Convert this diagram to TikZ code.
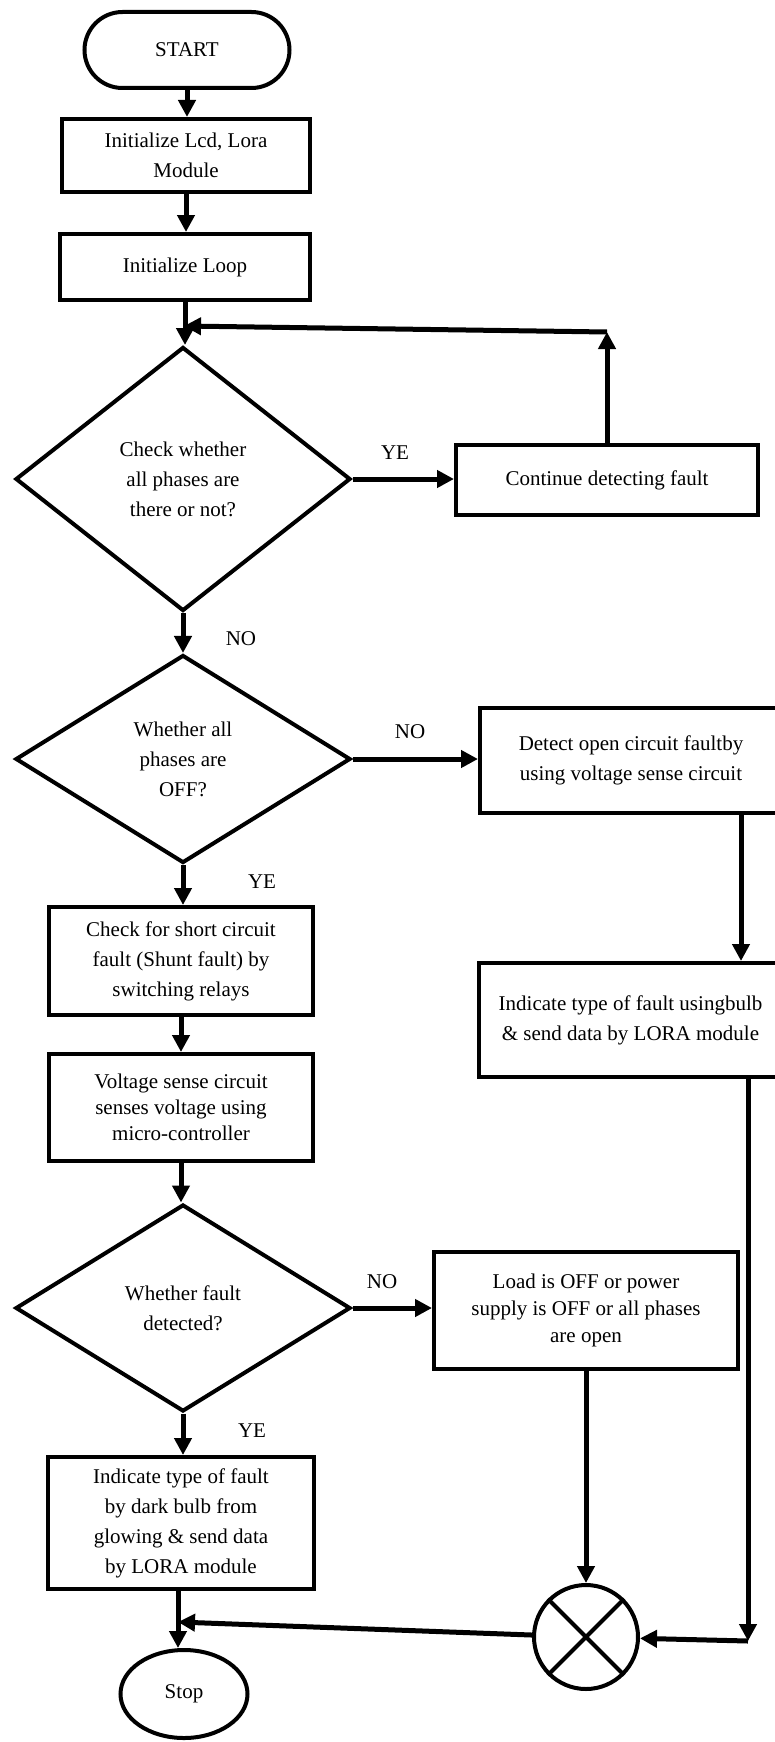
\documentclass[tikz,border=0pt]{standalone}
\usepackage{fontspec}
\setmainfont{Liberation Serif}
\usetikzlibrary{arrows.meta,shapes.geometric}

\begin{document}
\begin{tikzpicture}[x=1pt,y=-1pt,
	every node/.style={font=\fontsize{21}{30}\selectfont},
	box/.style={draw,line width=4pt,rectangle,align=center,inner sep=0pt},
	term/.style={box,rounded corners=38pt},
	decision/.style={draw,line width=4pt,diamond,align=center,inner sep=0pt},
	lbl/.style={inner sep=0pt},
	arrow/.style={line width=5pt,-{Triangle[length=17pt,width=17pt]}}]
	\useasboundingbox (0,0) rectangle (775,1742);
	%% Vertices ------
	\node[term,minimum width=205pt,minimum height=76pt] (start) at (187,50) {START};
	\node[box,minimum width=248pt,minimum height=73pt] (init) at (186,155.5) {Initialize Lcd, Lora\\Module};
	\node[box,minimum width=250pt,minimum height=66pt] (loopinit) at (185,267) {Initialize Loop};
	\node[decision,minimum width=335pt,minimum height=264pt] (phases) at (183,479) {Check whether\\all phases are\\there or not?};
	\node[box,minimum width=302pt,minimum height=70pt] (cont) at (607,480) {Continue detecting fault};
	\node[decision,minimum width=335pt,minimum height=208pt] (alloff) at (183,759) {Whether all\\phases are\\OFF?};
	\node[box,minimum width=302pt,minimum height=105pt] (open) at (631,760.5) {Detect open circuit faultby\\using voltage sense circuit};
	\node[box,minimum width=303pt,minimum height=114pt] (bulb) at (630.5,1020) {Indicate type of fault usingbulb\\\& send data by LORA module};
	\node[box,minimum width=264pt,minimum height=108pt] (short) at (181,961) {Check for short circuit\\fault (Shunt fault) by\\switching relays};
	\node[box,minimum width=264pt,minimum height=107pt,font=\fontsize{21}{26}\selectfont] (sense) at (181,1107.5) {Voltage sense circuit\\senses voltage using\\micro-controller};
	\node[decision,minimum width=335pt,minimum height=207pt] (fault) at (183,1308) {Whether fault\\detected?};
	\node[box,minimum width=304pt,minimum height=117pt,font=\fontsize{21}{27}\selectfont] (load) at (586,1310.5) {Load is OFF or power\\supply is OFF or all phases\\are open};
	\node[box,minimum width=266pt,minimum height=132pt] (dark) at (181,1523) {Indicate type of fault\\by dark bulb from\\glowing \& send data\\by LORA module};
	\node[draw,line width=4pt,ellipse,minimum width=127pt,minimum height=88pt,inner sep=0pt] (stop) at (184,1694) {Stop};
	\node[draw,line width=4pt,circle,minimum size=104pt,inner sep=0pt] (sum) at (586,1637) {};
	\draw[line width=4pt] (sum.north west) -- (sum.south east) (sum.north east) -- (sum.south west);
	%% Labels --------
	\node[lbl] (ye1) at (395,453) {YE};
	\node[lbl] (no1) at (241,639) {NO};
	\node[lbl] (no2) at (410,732) {NO};
	\node[lbl] (ye2) at (262,882) {YE};
	\node[lbl] (no3) at (382,1282) {NO};
	\node[lbl] (ye3) at (252,1431) {YE};
	\coordinate (back) at (607,332);
	\coordinate (join) at (184,326);
	\coordinate (corner) at (748,1641);
	\coordinate (merge) at (178,1622);
	%% Edges ---------
	\draw[arrow] (start) -- (start |- init.north);
	\draw[arrow] (init) -- (init |- loopinit.north);
	\draw[arrow] (loopinit) -- (loopinit |- phases.north);
	\draw[arrow] (cont) -- (back);
	\draw[arrow] (back) -- (join);
	\draw[arrow] (phases.east) -- (cont.west |- phases.east);
	\draw[arrow] (phases) -- (alloff);
	\draw[arrow] (alloff.east) -- (open.west |- alloff.east);
	\draw[arrow] ([xshift=110pt]open.south) -- ([xshift=110pt]open.south |- bulb.north);
	\draw[arrow] ([xshift=117.5pt]bulb.south) -- (corner);
	\draw[arrow] (corner) -- (sum);
	\draw[arrow] (alloff.south) -- (alloff.south |- short.north);
	\draw[arrow] (short) -- (sense);
	\draw[arrow] (sense) -- (sense |- fault.north);
	\draw[arrow] (fault.east) -- (load.west |- fault.east);
	\draw[arrow] (fault.south) -- (fault.south |- dark.north);
	\draw[arrow] (load) -- (sum);
	\draw[arrow] (dark.south -| merge) -- (merge |- stop.north);
	\draw[arrow] (sum) -- (merge);
\end{tikzpicture}
\end{document}
